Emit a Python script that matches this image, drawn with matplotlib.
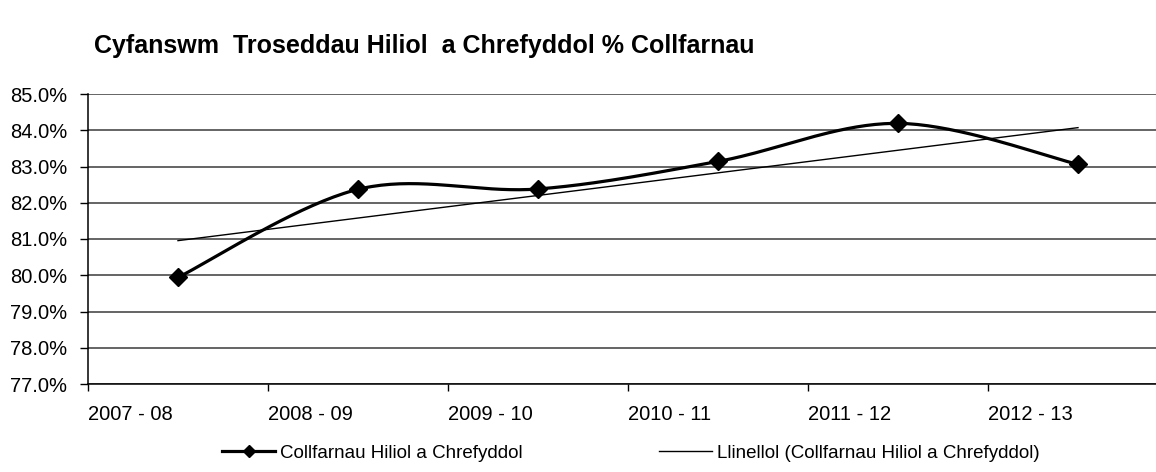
import numpy as np
import matplotlib
matplotlib.use('Agg')
import matplotlib.pyplot as plt
from matplotlib.lines import Line2D
from matplotlib.ticker import FuncFormatter

plt.rcParams['font.family'] = ['Liberation Sans', 'DejaVu Sans']

# data
seasons = ['2007 - 08', '2008 - 09', '2009 - 10', '2010 - 11', '2011 - 12', '2012 - 13']
convictions_pct = [79.94, 82.37, 82.38, 83.14, 84.19, 83.06]

series_name = 'Collfarnau Hiliol a Chrefyddol'
trend_name = 'Llinellol (Collfarnau Hiliol a Chrefyddol)'
title = 'Cyfanswm  Troseddau Hiliol  a Chrefyddol % Collfarnau'


def excel_smooth(xs, ys, n=40):
    # bezier smoothing like excel's "smoothed line"
    pts = np.column_stack([xs, ys]).astype(float)
    out = [pts[0]]
    for i in range(len(pts) - 1):
        p0 = pts[i - 1] if i > 0 else pts[i]
        p1 = pts[i]
        p2 = pts[i + 1]
        p3 = pts[i + 2] if i + 2 < len(pts) else pts[i + 1]
        c1 = p1 + (p2 - p0) / 6
        c2 = p2 - (p3 - p1) / 6
        t = np.linspace(0, 1, n)[1:, None]
        seg = ((1 - t) ** 3) * p1 + 3 * ((1 - t) ** 2) * t * c1 + 3 * (1 - t) * t ** 2 * c2 + t ** 3 * p2
        out.extend(seg)
    out = np.array(out)
    return out[:, 0], out[:, 1]


fig = plt.figure(figsize=(11.56, 4.72), dpi=100)
ax = fig.add_axes([88 / 1156, 1 - 384 / 472, 1080 / 1156, 290 / 472])

x = np.arange(len(seasons)) + 0.5
y = np.array(convictions_pct)

sx, sy = excel_smooth(x, y)
ax.plot(sx, sy, color='black', lw=2.3, zorder=3, solid_capstyle='round')
ax.plot(x, y, linestyle='none', marker='D', markersize=9.5, color='black', zorder=4)

# linear trendline
k, b = np.polyfit(np.arange(1, len(y) + 1), y, 1)
tx = np.array([x[0], x[-1]])
ax.plot(tx, k * (tx + 0.5) + b, color='black', lw=1.0, zorder=2)

ax.set_xlim(0, len(seasons))
ax.set_ylim(77, 85)
ax.set_yticks(np.arange(77, 85.5, 1))
ax.yaxis.set_major_formatter(FuncFormatter(lambda v, p: '{:.1f}%'.format(v)))
ax.set_xticks(np.arange(len(seasons) + 1))
ax.set_xticklabels(seasons + [''], ha='left')

ax.tick_params(axis='y', direction='out', length=6, width=1, pad=9, labelsize=14.5, colors='black')
ax.tick_params(axis='x', direction='out', length=5, width=1, pad=10, labelsize=14.5, colors='black')

ax.yaxis.grid(True, color='#3a3a3a', lw=1.1)
ax.set_axisbelow(True)
for s in ['top', 'right']:
    ax.spines[s].set_visible(False)
ax.spines['left'].set_linewidth(1.1)
ax.spines['bottom'].set_linewidth(1.1)

fig.text(94 / 1156, 1 - 46 / 472, title, fontsize=18, fontweight='bold', va='center', ha='left')

handles = [
    Line2D([], [], color='black', lw=2.3, marker='D', markersize=6.5),
    Line2D([], [], color='black', lw=1.0),
]
fig.legend(handles, [series_name, trend_name], loc='center', ncol=2,
           bbox_to_anchor=(631 / 1156, 1 - 453 / 472), frameon=False,
           prop={'size': 13.5},
           handlelength=2.8, handletextpad=0.27, columnspacing=7.3)

fig.savefig('out.png', dpi=100)
